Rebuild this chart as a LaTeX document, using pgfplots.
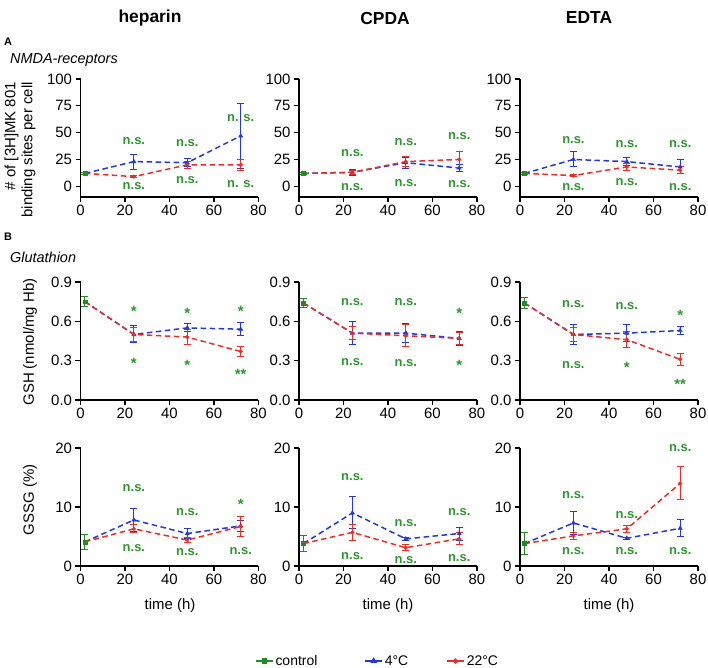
\documentclass[border=0pt]{standalone}
\usepackage{pgfplots}
\pgfplotsset{compat=1.18}
\usepackage{pgfplotstable}
\usepackage{fontspec}
\setmainfont{Liberation Sans}

\definecolor{cctrl}{RGB}{34,139,34}
\definecolor{cfour}{RGB}{35,55,225}
\definecolor{ctwo}{RGB}{235,45,35}
\definecolor{cns}{RGB}{45,150,45}

\newcommand{\tickfont}{\fontsize{15}{17}\selectfont}
\newcommand{\labfont}{\fontsize{15}{17}\selectfont}
\newcommand{\nsfont}{\bfseries\fontsize{13}{15}\selectfont}
\newcommand{\stfont}{\bfseries\fontsize{15}{17}\selectfont}

% annotations
\newcommand{\ns}[2]{\node[text=cns, font=\nsfont, inner sep=0pt] at (axis cs:#1,#2) {n.s.};}
\newcommand{\nss}[2]{\node[text=cns, font=\nsfont, inner sep=0pt] at (axis cs:#1,#2) {n. s.};}
\newcommand{\st}[2]{\node[text=cns, font=\stfont, inner sep=0pt, yshift=-3bp] at (axis cs:#1,#2) {*};}
\newcommand{\sst}[2]{\node[text=cns, font=\stfont, inner sep=0pt, yshift=-3bp] at (axis cs:#1,#2) {**};}

\pgfplotsset{
  panel/.style={
    scale only axis, width=178bp, height=118bp,
    xmin=0, xmax=80, xtick={0,20,40,60,80},
    axis x line=bottom, axis y line=left,
    axis line style={-, line width=1.3bp},
    tick align=outside, major tick length=5bp,
    tick style={black, line width=1.2bp},
    tick label style={font=\tickfont},
    /pgf/number format/assume math mode=true,
    clip=false,
  },
  rowa/.style={panel, ymin=-10, ymax=100, ytick={0,25,50,75,100}},
  rowb/.style={panel, ymin=0, ymax=0.9, ytick={0,0.3,0.6,0.9},
    yticklabel style={/pgf/number format/.cd, fixed, fixed zerofill, precision=1}},
  rowc/.style={panel, ymin=0, ymax=20, ytick={0,10,20}},
  lfour/.style={cfour, line width=1.5bp, dash pattern=on 5.5bp off 3.5bp, forget plot},
  ltwo/.style={ctwo, line width=1.5bp, dash pattern=on 5.5bp off 3.5bp, forget plot},
  ebars/.style={error bars/y dir=both, error bars/y explicit,
    error bars/error bar style={line width=1bp, solid},
    error bars/error mark options={rotate=90, mark size=3.5bp, line width=1bp}},
  mfour/.style={cfour, only marks, mark=triangle*, mark size=2.4bp, forget plot,
    skip coords between index={0}{1}, ebars},
  mtwo/.style={ctwo, only marks, mark=*, mark size=1.9bp, forget plot,
    skip coords between index={0}{1}, ebars},
  mctrl/.style={cctrl, only marks, mark=square*, mark size=1.9bp, forget plot,
    skip coords between index={1}{10}, ebars},
}

% NMDA-receptors: x  y  e   (first row = control)
\pgfplotstableread{
x y e
2 12 1
24 23 7
48 22 3.5
72 47 30
}\hepNfour
\pgfplotstableread{
x y e
2 12 1
24 9 1
48 20 3
72 20 5
}\hepNtwo
\pgfplotstableread{
x y e
2 12 1
24 13 3
48 22 5
72 17 3
}\cpdNfour
\pgfplotstableread{
x y e
2 12 1
24 13 2
48 23 4.5
72 25 7.5
}\cpdNtwo
\pgfplotstableread{
x y e
2 12 1
24 25 7
48 23 4
72 18 6.5
}\edtNfour
\pgfplotstableread{
x y e
2 12 1
24 10 1
48 18 3.5
72 15 3
}\edtNtwo

% GSH
\pgfplotstableread{
x y e
2 0.75 0.04
24 0.50 0.065
48 0.55 0.03
72 0.54 0.05
}\hepGfour
\pgfplotstableread{
x y e
2 0.75 0.04
24 0.50 0.05
48 0.48 0.06
72 0.37 0.04
}\hepGtwo
\pgfplotstableread{
x y e
2 0.74 0.035
24 0.51 0.085
48 0.51 0.07
72 0.47 0.055
}\cpdGfour
\pgfplotstableread{
x y e
2 0.74 0.035
24 0.51 0.05
48 0.49 0.085
72 0.47 0.045
}\cpdGtwo
\pgfplotstableread{
x y e
2 0.74 0.04
24 0.50 0.075
48 0.51 0.065
72 0.53 0.03
}\edtGfour
\pgfplotstableread{
x y e
2 0.74 0.04
24 0.50 0.05
48 0.46 0.06
72 0.31 0.045
}\edtGtwo

% GSSG
\pgfplotstableread{
x y e
2 4.1 1.3
24 7.8 2.0
48 5.5 0.8
72 6.8 0.9
}\hepSfour
\pgfplotstableread{
x y e
2 4.1 1.3
24 6.3 0.7
48 4.4 0.4
72 6.7 1.7
}\hepStwo
\pgfplotstableread{
x y e
2 3.8 1.3
24 9.0 2.7
48 4.6 0.3
72 5.5 1.1
}\cpdSfour
\pgfplotstableread{
x y e
2 3.8 1.3
24 5.7 1.3
48 3.1 0.5
72 4.6 1.0
}\cpdStwo
\pgfplotstableread{
x y e
2 3.8 1.9
24 7.3 2.0
48 4.7 0.2
72 6.4 1.4
}\edtSfour
\pgfplotstableread{
x y e
2 3.8 1.9
24 5.1 0.6
48 6.3 0.55
72 14.0 2.8
}\edtStwo

\newcommand{\series}[2]{%
  \addplot[lfour] table[x=x,y=y] {#1};
  \addplot[ltwo] table[x=x,y=y] {#2};
  \addplot[mfour] table[x=x,y=y,y error=e] {#1};
  \addplot[mtwo] table[x=x,y=y,y error=e] {#2};
  \addplot[mctrl] table[x=x,y=y,y error=e] {#1};
}

\begin{document}
\begin{tikzpicture}
\useasboundingbox (0,0) rectangle (708bp,-668bp);

% ---- row A: NMDA-receptors
\begin{axis}[rowa, at={(80.5bp,-197bp)}, anchor=south west]
\series{\hepNfour}{\hepNtwo}
\ns{24}{42} \ns{24}{0} \ns{48}{40} \ns{48}{6} \nss{72}{64} \nss{72}{2}
\end{axis}
\begin{axis}[rowa, at={(299bp,-197bp)}, anchor=south west]
\series{\cpdNfour}{\cpdNtwo}
\ns{24}{31} \ns{24}{-1} \ns{48}{41} \ns{48}{3} \ns{72}{47} \ns{72}{2}
\end{axis}
\begin{axis}[rowa, at={(520bp,-197bp)}, anchor=south west]
\series{\edtNfour}{\edtNtwo}
\ns{24}{43} \ns{24}{-1} \ns{48}{39} \ns{48}{4} \ns{72}{39} \ns{72}{-1}
\end{axis}

% ---- row B: GSH
\begin{axis}[rowb, at={(80.5bp,-400bp)}, anchor=south west]
\series{\hepGfour}{\hepGtwo}
\st{24}{0.70} \st{24}{0.30} \st{48}{0.68} \st{48}{0.29} \st{72}{0.70} \sst{72}{0.22}
\end{axis}
\begin{axis}[rowb, at={(299bp,-400bp)}, anchor=south west]
\series{\cpdGfour}{\cpdGtwo}
\ns{24}{0.75} \ns{24}{0.29} \ns{48}{0.75} \ns{48}{0.28} \st{72}{0.68} \st{72}{0.29}
\end{axis}
\begin{axis}[rowb, at={(520bp,-400bp)}, anchor=south west]
\series{\edtGfour}{\edtGtwo}
\ns{24}{0.73} \ns{24}{0.27} \ns{48}{0.72} \st{48}{0.27} \st{72}{0.67} \sst{72}{0.14}
\end{axis}

% ---- row C: GSSG
\begin{axis}[rowc, at={(299bp,-566bp)}, anchor=south west,
  legend style={at={(-0.265,-0.805)}, anchor=west, draw=none, fill=none,
    font=\fontsize{14}{16}\selectfont},
  legend columns=3, legend cell align=left]
\series{\cpdSfour}{\cpdStwo}
\ns{24}{15.0} \ns{24}{1.7} \ns{48}{7.2} \ns{48}{1.0} \ns{72}{9.1} \ns{72}{1.4}
\addlegendimage{cctrl, line width=1.5bp, mark=square*, mark size=1.9bp}
\addlegendentry{control\kern45bp}
\addlegendimage{cfour, line width=1.5bp, mark=triangle*, mark size=2.4bp}
\addlegendentry{4°C\kern36bp}
\addlegendimage{ctwo, line width=1.5bp, mark=*, mark size=1.9bp}
\addlegendentry{22°C}
\end{axis}
\begin{axis}[rowc, at={(80.5bp,-566bp)}, anchor=south west]
\series{\hepSfour}{\hepStwo}
\ns{24}{13.2} \ns{24}{3.1} \ns{48}{9.2} \ns{48}{2.3} \st{72}{11} \ns{72}{2.5}
\end{axis}
\begin{axis}[rowc, at={(520bp,-566bp)}, anchor=south west]
\series{\edtSfour}{\edtStwo}
\ns{24}{12.0} \ns{24}{2.6} \ns{48}{8.7} \ns{48}{2.6} \ns{72}{20.0} \ns{72}{2.6}
\end{axis}

% column titles and panel captions
\node[font=\bfseries\fontsize{17.5}{20}\selectfont] at (150bp,-18bp) {heparin};
\node[font=\bfseries\fontsize{17.5}{20}\selectfont] at (385bp,-18bp) {CPDA};
\node[font=\bfseries\fontsize{17.5}{20}\selectfont] at (589bp,-18bp) {EDTA};
\node[font=\bfseries\fontsize{11}{13}\selectfont] at (8bp,-42bp) {A};
\node[font=\bfseries\fontsize{11}{13}\selectfont] at (8bp,-237bp) {B};
\node[font=\itshape\fontsize{14.5}{17}\selectfont, anchor=west, inner sep=0pt] at (10bp,-60bp) {NMDA-receptors};
\node[font=\itshape\fontsize{14.5}{17}\selectfont, anchor=west, inner sep=0pt] at (10bp,-257bp) {Glutathion};

% y labels
\node[rotate=90, font=\labfont, align=right, anchor=east, inner sep=0pt] at (20bp,-82bp) {\# of [3H]MK 801\\binding sites per cell};
\node[rotate=90, font=\labfont] at (30bp,-342bp) {GSH (nmol/mg Hb)};
\node[rotate=90, font=\labfont] at (30bp,-500bp) {GSSG (\%)};

% x labels
\node[font=\labfont] at (170bp,-606bp) {time (h)};
\node[font=\labfont] at (388bp,-606bp) {time (h)};
\node[font=\labfont] at (609bp,-606bp) {time (h)};
\end{tikzpicture}
\end{document}
